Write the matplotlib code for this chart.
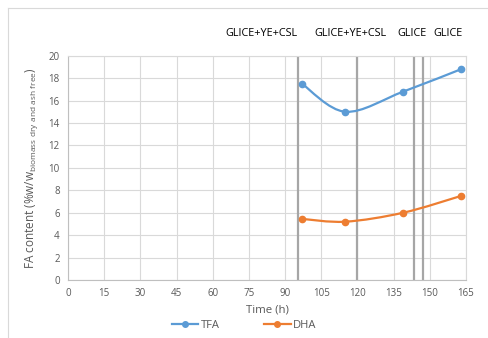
#!/usr/bin/env python3

import numpy as np
import matplotlib
matplotlib.use("Agg")
import matplotlib.pyplot as plt
from matplotlib.path import Path
from matplotlib.patches import PathPatch
from matplotlib.lines import Line2D

plt.rcParams["font.family"] = ["Open Sans", "DejaVu Sans"]
plt.rcParams["mathtext.fontset"] = "custom"
plt.rcParams["mathtext.rm"] = "Open Sans"

# Sampling times (h) and fatty acid content
time_h = [97, 115, 139, 163]
tfa = [17.5, 15.0, 16.8, 18.8]
dha = [5.45, 5.2, 6.0, 7.5]

# Feed changes (h) and the medium used after each
feed_times = [95.5, 120, 143.5, 147]
feed_labels = ["GLICE+YE+CSL", "GLICE+YE+CSL", "GLICE", "GLICE"]
label_x = [80, 117, 142.5, 157.5]

x_ticks = list(range(0, 166, 15))
y_ticks = list(range(0, 21, 2))

blue = "#5B9BD5"
orange = "#ED7D31"
tick_grey = "#595959"


def smooth_path(x, y):
    # Excel-style smoothed line: cubic Bezier segments through every point
    pts = np.column_stack([x, y]).astype(float)
    verts = [pts[0]]
    codes = [Path.MOVETO]
    n = len(pts)
    for i in range(n - 1):
        p0 = pts[max(i - 1, 0)]
        p1 = pts[i]
        p2 = pts[i + 1]
        p3 = pts[min(i + 2, n - 1)]
        c1 = p1 + (p2 - p0) / 6
        c2 = p2 - (p3 - p1) / 6
        verts += [c1, c2, p2]
        codes += [Path.CURVE4] * 3
    return Path(verts, codes)


def main():
    fig = plt.figure(figsize=(4.88, 3.38), dpi=100)
    ax = fig.add_axes([0.1393, 0.1716, 0.8156, 0.6636])

    ax.set_xlim(0, 165)
    ax.set_ylim(0, 20)
    ax.set_xticks(x_ticks)
    ax.set_yticks(y_ticks)
    ax.grid(True, color="#D9D9D9", lw=0.8)
    ax.set_axisbelow(True)
    for side in ["top", "right"]:
        ax.spines[side].set_color("#D9D9D9")
    for side in ["left", "bottom"]:
        ax.spines[side].set_color("#BFBFBF")
    ax.tick_params(length=0, labelsize=7, colors=tick_grey, pad=6)

    for t in feed_times:
        ax.axvline(t, color="#A6A6A6", lw=1.6, zorder=2)

    for xs, ys, c in [(time_h, tfa, blue), (time_h, dha, orange)]:
        ax.add_patch(PathPatch(smooth_path(xs, ys), fill=False, ec=c, lw=1.6, zorder=3))
        ax.plot(xs, ys, ls="none", marker="o", ms=4.5, color=c, zorder=4)

    for lx, lab in zip(label_x, feed_labels):
        ax.text(lx, 22.0, lab, ha="center", va="center", fontsize=7.8, color="black")

    ax.set_xlabel("Time (h)", fontsize=8.2, color=tick_grey, labelpad=4)
    ax.set_ylabel(r"FA content (%w/w$_{\mathrm{biomass\ dry\ and\ ash\ free}}$)",
                  fontsize=8.5, color=tick_grey, labelpad=6)

    handles = [Line2D([], [], color=blue, marker="o", ms=4, lw=1.6),
               Line2D([], [], color=orange, marker="o", ms=4, lw=1.6)]
    fig.legend(handles, ["TFA", "DHA"], loc="lower center", bbox_to_anchor=(0.5, -0.01),
               ncol=2, frameon=False, fontsize=8, handlelength=2.4,
               handletextpad=0.2, columnspacing=4.0, labelcolor=tick_grey)

    # outer chart frame (only top and left are visible)
    fig.add_artist(Line2D([7.5 / 488, 1], [1 - 8 / 338, 1 - 8 / 338],
                          transform=fig.transFigure, color="#D9D9D9", lw=0.8))
    fig.add_artist(Line2D([7.5 / 488, 7.5 / 488], [0, 1 - 8 / 338],
                          transform=fig.transFigure, color="#D9D9D9", lw=0.8))

    fig.savefig("out.png", dpi=100)


if __name__ == "__main__":
    main()
